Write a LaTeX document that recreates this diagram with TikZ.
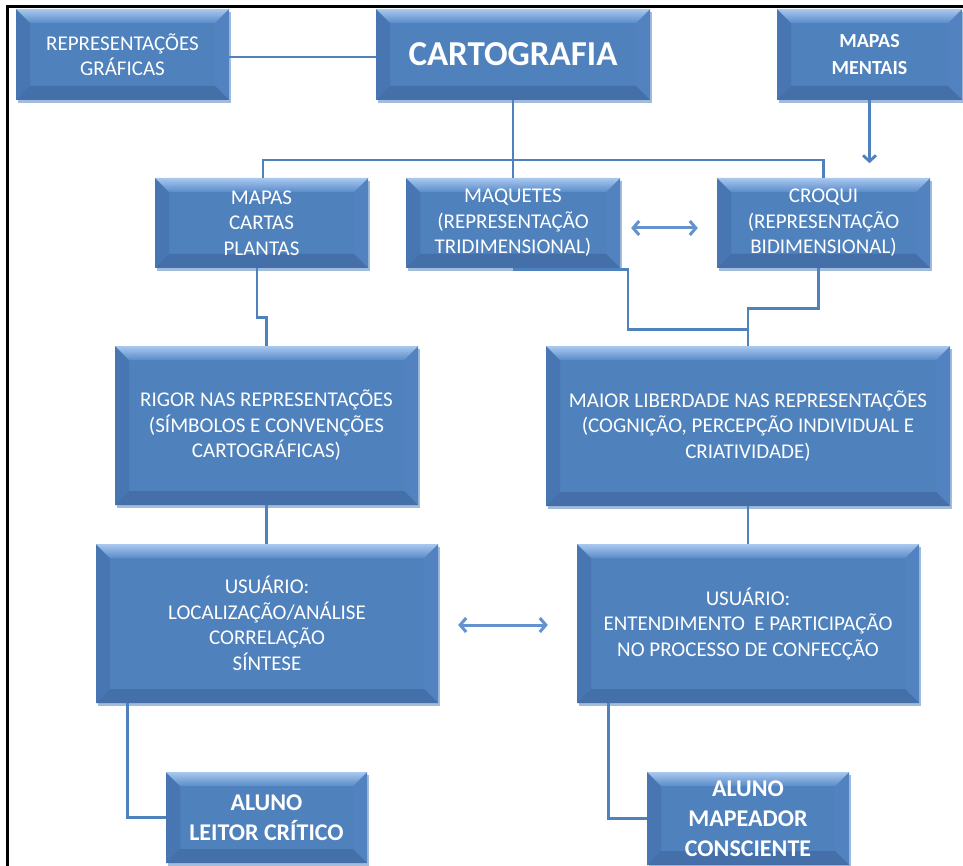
\documentclass[tikz,border=0pt]{standalone}
\usepackage{fontspec}
\setmainfont{Carlito}
\usetikzlibrary{arrows.meta,calc}

\definecolor{boxblue}{HTML}{4F81BD}
\definecolor{bevhi}{HTML}{A9C8EE}
\definecolor{bevlo}{HTML}{5A8CCB}
\definecolor{bevleft}{HTML}{4776B2}
\definecolor{bevright}{HTML}{5282BF}
\definecolor{bevbottom}{HTML}{446FA9}
\definecolor{boxshadow}{HTML}{A2BCDD}
\definecolor{lineblue}{HTML}{4F81BD}
\definecolor{arrowblue}{HTML}{6392CF}

\newcommand\regfont{\fontsize{21}{25.5}\selectfont}
\newcommand\bevd{14pt}

\tikzset{
  bevelbox/.style={rectangle, inner sep=0pt, align=center, text=white,
    fill=boxblue, font=\regfont,
    path picture={
      \path (path picture bounding box.north west) coordinate (bvA)
            (path picture bounding box.north east) coordinate (bvB)
            (path picture bounding box.south east) coordinate (bvC)
            (path picture bounding box.south west) coordinate (bvD);
      \fill[bevleft] (bvA) -- ([xshift=\bevd,yshift=-\bevd]bvA)
        -- ([xshift=\bevd,yshift=\bevd]bvD) -- (bvD) -- cycle;
      \fill[bevright] (bvB) -- ([xshift=-\bevd,yshift=-\bevd]bvB)
        -- ([xshift=-\bevd,yshift=\bevd]bvC) -- (bvC) -- cycle;
      \fill[bevbottom] (bvD) -- ([xshift=\bevd,yshift=\bevd]bvD)
        -- ([xshift=-\bevd,yshift=\bevd]bvC) -- (bvC) -- cycle;
      \shade[top color=bevhi, bottom color=bevlo] (bvA) -- (bvB)
        -- ([xshift=-\bevd,yshift=-\bevd]bvB)
        -- ([xshift=\bevd,yshift=-\bevd]bvA) -- cycle;
    }},
  conn/.style={draw=lineblue, line width=2.8pt},
  dbl/.style={draw=arrowblue, line width=3pt,
    {Straight Barb[length=6pt,width=14pt]}-{Straight Barb[length=6pt,width=14pt]}},
  downtip/.style={-{Straight Barb[length=6pt,width=13pt]}}
}

% \bevbox[style]{name}{x1}{y1}{x2}{y2}{text}
\newcommand\bevbox[7][]{%
  \pgfmathsetmacro\bcx{(#3+#5)/2}%
  \pgfmathsetmacro\bcy{(#4+#6)/2}%
  \pgfmathsetmacro\bw{#5-#3}%
  \pgfmathsetmacro\bh{#6-#4}%
  \fill[boxshadow] (#3+1.5,#4+3) rectangle (#5+1.5,#6+3);
  \node[bevelbox, minimum width=\bw pt, minimum height=\bh pt, #1]
    (#2) at (\bcx,\bcy) {#7};
}

\begin{document}
\begin{tikzpicture}[x=1pt,y=-1pt]
\useasboundingbox (0,0) rectangle (963,866);
\clip (0,0) rectangle (963,866);
\fill[white] (0,0) rectangle (963,866);

% outer frame
\draw[line width=2.5pt] (7.5,870) -- (7.5,6.5) -- (970,6.5);

% boxes
\bevbox{rep}{16}{9}{229}{100}{REPRESENTAÇÕES\\GRÁFICAS}
\bevbox[font=\fontsize{35}{40}\selectfont\bfseries]{cart}{376}{9}{650}{100}{CARTOGRAFIA}
\bevbox[font=\fontsize{20}{26.5}\selectfont\bfseries]{mm}{777}{9}{962}{100}{MAPAS\\MENTAIS}
\bevbox{mapas}{155}{178}{368}{268}{MAPAS\\CARTAS\\PLANTAS}
\bevbox{maq}{406}{178}{620}{268}{MAQUETES\\(REPRESENTAÇÃO\\TRIDIMENSIONAL)}
\bevbox{croqui}{717}{178}{930}{268}{CROQUI\\(REPRESENTAÇÃO\\BIDIMENSIONAL)}
\bevbox{rigor}{115}{346}{418}{505}{RIGOR NAS REPRESENTAÇÕES\\(SÍMBOLOS E CONVENÇÕES\\CARTOGRÁFICAS)}
\bevbox{maior}{546}{346}{950}{506}{MAIOR LIBERDADE NAS REPRESENTAÇÕES\\(COGNIÇÃO, PERCEPÇÃO INDIVIDUAL E\\CRIATIVIDADE)}
\bevbox{usul}{96}{544}{438}{703}{USUÁRIO:\\LOCALIZAÇÃO/ANÁLISE\\CORRELAÇÃO\\SÍNTESE}
\bevbox{usur}{577}{544}{919}{703}{USUÁRIO:\\ENTENDIMENTO\ \ E PARTICIPAÇÃO\\NO PROCESSO DE CONFECÇÃO}
\bevbox[font=\fontsize{24}{30}\selectfont\bfseries]{al1}{166}{772}{367}{863}{ALUNO\\LEITOR CRÍTICO}
\bevbox[font=\fontsize{24}{30}\selectfont\bfseries]{al2}{647}{772}{849}{865}{ALUNO\\MAPEADOR\\CONSCIENTE}

% connectors
\coordinate (bus) at (0,160);
\draw[conn] ([yshift=-2.5pt]rep.east) -- ([yshift=-2.5pt]rep.east -| cart.west);
\draw[conn] (cart.south) -- (cart.south |- maq.north);
\draw[conn] ([xshift=1.5pt]mapas.north) |- (bus -| croqui.north) -- (croqui.north);
\draw[conn,downtip] (mm.south) -- ++(0,63);
\draw[conn] ([xshift=-4.5pt]mapas.south) -- ++(0,49) -| (rigor.north);
\draw[conn] ([yshift=-1pt]maq.south) -| ++(115,60) -| (maior.north);
\draw[conn] ([xshift=-5pt]croqui.south) -- ++(0,40) -| (maior.north);
\draw[conn] (rigor.south) -- (rigor.south |- usul.north);
\draw[conn] (maior.south) -- (maior.south |- usur.north);
\draw[conn] ([xshift=32pt]usul.south west) |- (al1.west);
\draw[conn] ([xshift=32pt]usur.south west) |- (al2.west);

% two-way links
\draw[dbl] ([xshift=11pt,yshift=-5pt]maq.east) -- ([xshift=-19pt,yshift=-5pt]croqui.west);
\draw[dbl] ([xshift=20pt,yshift=-1.5pt]usul.east) -- ([xshift=-29pt,yshift=-1.5pt]usur.west);
\end{tikzpicture}
\end{document}
